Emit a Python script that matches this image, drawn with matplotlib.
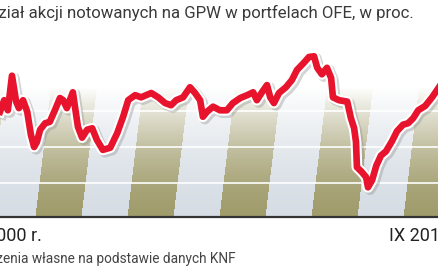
import numpy as np
import matplotlib
matplotlib.use('Agg')
import matplotlib.pyplot as plt
import matplotlib.patheffects as pe

# share of listed stocks in OFE portfolios, %
years = [2001.24, 2001.33, 2001.41, 2001.50, 2001.59, 2001.65, 2001.74, 2001.83, 2001.91, 2001.98,
         2002.04, 2002.11, 2002.22, 2002.32, 2002.43, 2002.54, 2002.61, 2002.69, 2002.82, 2002.93,
         2003.02, 2003.13, 2003.24, 2003.34, 2003.47, 2003.63, 2003.78, 2003.91, 2004.02, 2004.17,
         2004.30, 2004.52, 2004.67, 2004.82, 2004.95, 2005.06, 2005.21, 2005.36, 2005.47, 2005.58,
         2005.64, 2005.73, 2005.86, 2006.01, 2006.16, 2006.29, 2006.45, 2006.60, 2006.73, 2006.81,
         2006.92, 2007.03, 2007.10, 2007.18, 2007.29, 2007.44, 2007.57, 2007.68, 2007.83, 2007.94,
         2008.05, 2008.12, 2008.22, 2008.33, 2008.42, 2008.46, 2008.59, 2008.77, 2008.85, 2008.92,
         2008.96, 2008.98, 2009.09, 2009.18, 2009.22, 2009.31, 2009.40, 2009.50, 2009.61, 2009.74,
         2009.85, 2009.98, 2010.09, 2010.20, 2010.31, 2010.46, 2010.61, 2010.76]
share = [29.9, 31.5, 30.1, 34.9, 31.3, 30.4, 31.5, 29.9, 26.7, 25.0,
         25.7, 27.4, 28.3, 28.5, 30.1, 31.8, 31.5, 30.4, 32.6, 27.8,
         26.3, 27.4, 27.6, 26.0, 24.6, 24.9, 26.9, 29.2, 31.5, 32.2,
         31.9, 32.5, 31.9, 31.1, 30.8, 31.5, 31.9, 33.3, 32.5, 31.5,
         29.2, 29.9, 30.6, 30.1, 30.1, 31.1, 31.8, 32.2, 32.6, 31.5,
         32.6, 33.6, 31.9, 31.1, 32.5, 33.3, 34.3, 35.7, 36.7, 37.5,
         37.6, 36.0, 35.1, 36.0, 34.6, 31.9, 31.5, 31.3, 29.0, 27.6,
         25.7, 22.2, 21.5, 20.8, 19.4, 20.4, 22.4, 23.8, 24.4, 25.8,
         27.2, 28.1, 28.3, 29.0, 30.1, 30.7, 31.9, 33.3]
grid_levels = [20, 25, 30]

title = 'Udział akcji notowanych na GPW w portfelach OFE, w proc.'
left_label = '2000 r.'
right_label = 'IX 2010 r.'
source = 'Źródło: obliczenia własne na podstawie danych KNF'

plt.rcParams['font.family'] = ['Roboto', 'DejaVu Sans']

W, H = 439, 268
fig = plt.figure(figsize=(W / 100, H / 100), dpi=100)
ax_bottom, ax_top = 217, 30
ax = fig.add_axes([0, (H - ax_bottom) / H, 1, (ax_bottom - ax_top) / H])
x0, x1 = years[0], years[-1]
ppv = 7.2  # pixels per percent
y0 = 20 - (ax_bottom - 183) / ppv
y1 = y0 + (ax_bottom - ax_top) / ppv
ax.set_xlim(x0, x1)
ax.set_ylim(y0, y1)

# striped background (one stripe per year), fading to white upwards
nx, ny = W, ax_bottom - ax_top
xs = np.linspace(x0, x1, nx)
hs = np.arange(ny)[:, None] + 0.5
shift = 0.12 * hs / 46.1
band = np.floor(xs[None, :] - shift).astype(int)
olive = np.array([160, 156, 108]) / 255
grey = np.array([214, 221, 228]) / 255
img = np.where((band % 2 == 0)[:, :, None], olive, grey)
w = np.clip(hs / 130, 0, 1) ** 1.6
img = img * (1 - w[:, :, None]) + w[:, :, None]
ax.imshow(img, extent=(x0, x1, y0, y1), origin='lower', aspect='auto', zorder=0,
          interpolation='bilinear')

for g in grid_levels:
    ax.axhline(g, color='white', lw=1.2, zorder=1)

ax.plot(years, share, color='#e8142d', lw=4.8, solid_joinstyle='round', zorder=3,
        path_effects=[pe.SimpleLineShadow(offset=(1.5, -1.5), shadow_color='#888888', alpha=0.35,
                                          linewidth=8),
                      pe.Stroke(linewidth=7.8, foreground='white'), pe.Normal()])

for s in ['top', 'left', 'right']:
    ax.spines[s].set_visible(False)
ax.spines['bottom'].set_color('#333333')
ax.spines['bottom'].set_linewidth(1.6)
ax.set_xticks([])
ax.set_yticks([])

fig.text(414 / W, 1 - 13 / H, title, ha='right', va='center', fontsize=12.1,
         color='#3a3a3a')
fig.text(42 / W, 1 - 236 / H, left_label, ha='right', va='center', fontsize=13, color='#222222')
fig.text(389 / W, 1 - 236 / H, right_label, ha='left', va='center', fontsize=13, color='#222222')
fig.text(236 / W, 1 - 258 / H, source, ha='right', va='center', fontsize=9.8, color='#444444')

fig.savefig('out.png', dpi=100)
